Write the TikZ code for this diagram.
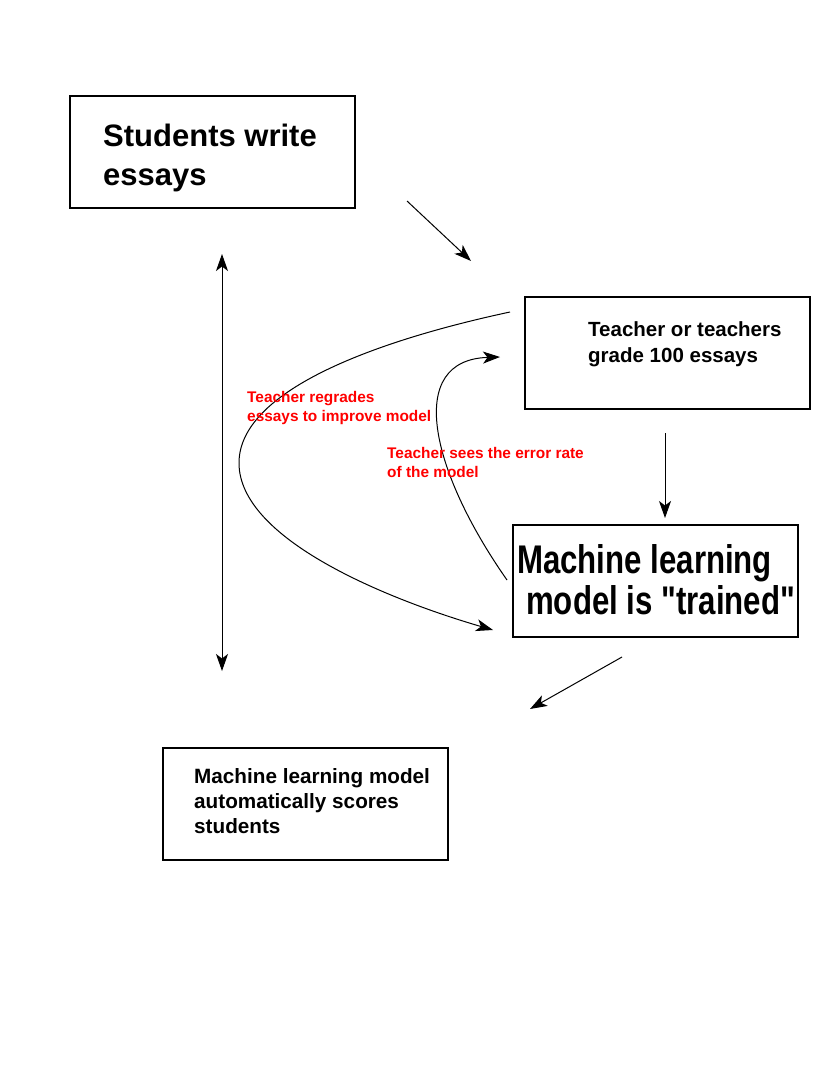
\documentclass[tikz,border=0pt]{standalone}
\usepackage{fontspec}
\setmainfont{Liberation Sans}
\newfontfamily\narrowsans[FakeStretch=0.78]{Liberation Sans}
\usetikzlibrary{positioning}
\usetikzlibrary{arrows.meta}

\begin{document}
\begin{tikzpicture}[x=1pt, y=-1pt,
  box/.style={draw, rectangle, line width=2pt, minimum width=285pt, minimum height=112pt},
  boxtext/.style={anchor=west, inner sep=0pt, align=left},
  note/.style={anchor=west, inner sep=0pt, align=left, text=red, font=\fontsize{15.4}{19}\selectfont\bfseries},
  arr/.style={line width=1pt, -{Stealth[length=17pt, width=12pt, inset=4.5pt]}},
  darr/.style={line width=1pt, {Stealth[length=17pt, width=12pt, inset=4.5pt]}-{Stealth[length=17pt, width=12pt, inset=4.5pt]}}]
\useasboundingbox (0,0) rectangle (830,1091);

% the four boxes
\node[box] (SW) at (212.5,152) {};
\node[boxtext, font=\fontsize{31}{39.5}\selectfont\bfseries] (SWT) at (103,158) {Students write\\essays};
\node[box] (TG) at (667.5,353) {};
\node[boxtext, font=\fontsize{20.5}{26}\selectfont\bfseries] (TGT) at (588,344) {Teacher or teachers\\grade 100 essays};
\node[box] (ML) at (655.5,581) {};
\node[boxtext, font=\narrowsans\fontsize{40}{41}\selectfont\bfseries] (MLT) at (517,580) {Machine learning\\\hspace*{9pt}model is "trained"};
\node[box] (MS) at (305.5,804) {};
\node[boxtext, font=\fontsize{20.7}{25}\selectfont\bfseries] (MST) at (194,801) {Machine learning model\\automatically scores\\students};

% loose ends of the arrows
\coordinate (SWout) at (407,201);
\coordinate (TGin) at (471,261);
\coordinate (TGout) at (665,433);
\coordinate (MLin) at (665,518);
\coordinate (MLout) at (622,657);
\coordinate (MSin) at (530,709);
\coordinate (UP) at (222,254);
\coordinate (DOWN) at (222,671);
\coordinate (RGout) at (510,312);
\coordinate (RGin) at (493,630);
\coordinate (ERout) at (507,580);
\coordinate (ERin) at (500,357);

\draw[arr] (SWout) -- (TGin);
\draw[arr] (TGout) -- (MLin);
\draw[arr] (MLout) -- (MSin);
\draw[darr] (UP) -- (DOWN);
\draw[arr] (RGout) .. controls (370,342) and (239,392) .. (239,463) .. controls (239,540) and (390,600) .. (RGin);
\draw[arr] (ERout) .. controls (430,470) and (405,360) .. (ERin);

% red notes
\node[note] (RG) at (247,408) {Teacher regrades\\essays to improve model};
\node[note] (ER) at (387,462) {Teacher sees the error rate\\of the model};
\end{tikzpicture}
\end{document}
